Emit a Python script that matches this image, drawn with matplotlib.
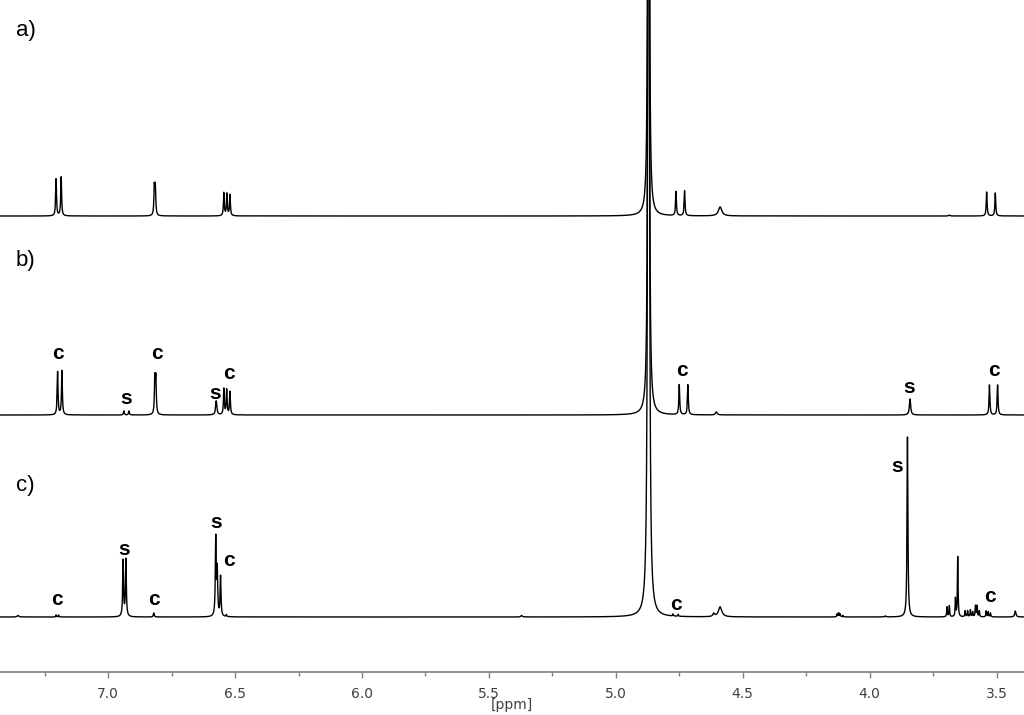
import numpy as np
import matplotlib.pyplot as plt
from matplotlib.ticker import MultipleLocator

# peak tables: shift (ppm), height (rel. units), half width (ppm)
a_ppm = [7.205, 7.185, 6.818, 6.814, 6.544, 6.532, 6.520, 4.871, 4.763, 4.729, 4.589, 3.686, 3.539, 3.505]
a_height = [37, 39, 28, 28, 23, 22, 21, 2500, 24, 25, 9, 1, 24, 23]
a_width = [0.002, 0.002, 0.002, 0.002, 0.002, 0.002, 0.002, 0.0015, 0.002, 0.002, 0.008, 0.003, 0.002, 0.002]

b_ppm = [7.199, 7.182, 6.938, 6.918, 6.816, 6.812, 6.574, 6.544, 6.533, 6.520, 4.871, 4.750, 4.716, 4.604, 3.841, 3.528, 3.496]
b_height = [43, 44, 4, 4, 35, 35, 14, 26, 25, 23, 2500, 30, 30, 3, 16, 30, 30]
b_width = [0.002, 0.002, 0.002, 0.002, 0.002, 0.002, 0.003, 0.002, 0.002, 0.002, 0.0016, 0.002, 0.002, 0.004, 0.003, 0.002, 0.002]

c_ppm = [7.355, 7.205, 7.195, 6.941, 6.930, 6.820, 6.576, 6.570, 6.557, 6.534, 5.371, 4.871,
         4.775, 4.754, 4.614, 4.589, 4.128, 4.122, 4.116, 4.105, 3.938, 3.851,
         3.695, 3.686, 3.662, 3.653, 3.624, 3.614, 3.603, 3.594, 3.583, 3.577, 3.568,
         3.541, 3.533, 3.524, 3.426]
c_height = [1.5, 2, 2, 56, 57, 4, 78, 45, 40, 2, 1.5, 2500,
            2, 2, 3, 10, 3, 4, 3, 1.5, 1, 180,
            10, 11, 18, 60, 6, 6, 7, 5, 11, 11, 6,
            6, 5, 4, 6]
c_width = [0.004, 0.0015, 0.0015, 0.002, 0.002, 0.002, 0.002, 0.002, 0.002, 0.0015, 0.003, 0.002,
           0.0015, 0.0015, 0.004, 0.008, 0.0015, 0.0015, 0.0015, 0.0015, 0.003, 0.002,
           0.0015, 0.0015, 0.0015, 0.0015, 0.0015, 0.0015, 0.0015, 0.0015, 0.0015, 0.0015, 0.0015,
           0.0015, 0.0015, 0.0015, 0.003]

# peak assignments (c / s) : label, shift, height above own baseline
b_labels = [('c', 7.198, 56), ('s', 6.930, 11), ('c', 6.809, 56), ('s', 6.577, 16),
            ('c', 6.526, 36), ('c', 4.740, 39), ('s', 3.843, 22), ('c', 3.511, 39)]
c_labels = [('c', 7.200, 12), ('s', 6.938, 62), ('c', 6.820, 12), ('s', 6.576, 89),
            ('c', 6.526, 51), ('c', 4.762, 7), ('s', 3.893, 145), ('c', 3.528, 15)]

panels = ['a)', 'b)', 'c)']
offsets = [456, 257, 55]


def spectrum(x, ppm, height, width):
    y = np.zeros_like(x)
    for p, h, w in zip(ppm, height, width):
        y += h * w**2 / ((x - p)**2 + w**2)
    return y


x = np.linspace(3.392, 7.426, 40000)

fig = plt.figure(figsize=(10.24, 7.15), dpi=100)
ax = fig.add_axes([0, 43 / 715, 1, 672 / 715])

tables = [(a_ppm, a_height, a_width), (b_ppm, b_height, b_width), (c_ppm, c_height, c_width)]
for (p, h, w), off in zip(tables, offsets):
    ax.plot(x, spectrum(x, p, h, w) + off, color='black', lw=1.0)

for labels, off in [(b_labels, offsets[1]), (c_labels, offsets[2])]:
    for t, p, dy in labels:
        ax.text(p, off + dy, t, ha='center', va='baseline', fontsize=15,
                fontweight='bold', family='Liberation Sans')

ax.set_xlim(7.426, 3.392)
ax.set_ylim(0, 672)
for s in ['left', 'right', 'top']:
    ax.spines[s].set_visible(False)
ax.spines['bottom'].set_color('#808080')
ax.spines['bottom'].set_linewidth(1.2)
ax.set_yticks([])
ax.xaxis.set_major_locator(MultipleLocator(0.5))
ax.xaxis.set_minor_locator(MultipleLocator(0.25))
ax.tick_params(axis='x', which='major', length=4, width=1, color='#808080',
               labelsize=10, labelcolor='#404040', pad=7)
ax.tick_params(axis='x', which='minor', length=3, width=1, color='#808080')
ax.patch.set_visible(False)

fig.text(512 / 1024, 1 - 705 / 715, '[ppm]', ha='center', va='center',
         fontsize=10, color='#404040')

for lab, ypx in zip(panels, [36, 266, 491]):
    fig.text(16 / 1024, 1 - ypx / 715, lab, ha='left', va='baseline',
             fontsize=16, family='Liberation Sans')

fig.savefig('out.png', dpi=100, facecolor='white')
